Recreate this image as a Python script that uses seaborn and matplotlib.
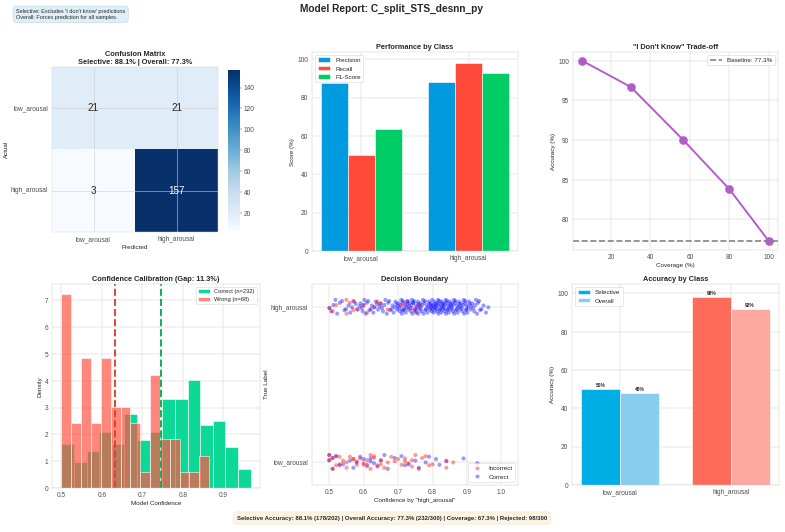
import matplotlib
matplotlib.use('Agg')
import matplotlib.pyplot as plt
import seaborn as sns
import numpy as np
import pandas as pd

# ---- data ----
CLASSES = ['low_arousal', 'high_arousal']
CONF_MATRIX = [[21, 21], [3, 157]]

METRICS = ['Precision', 'Recall', 'F1-Score']
PRECISION = [87.5, 88.2]
RECALL = [50.0, 98.1]
F1 = [63.6, 92.9]

COVERAGE = [5.4, 30.0, 56.7, 80.1, 100.0]
COV_ACCURACY = [100.0, 96.7, 90.0, 83.8, 77.3]
BASELINE = 77.3

# histogram counts per bin (15 bins each), with bin range
CORRECT_COUNTS = [12, 7, 10, 15, 12, 20, 13, 15, 24, 24, 29, 17, 18, 11, 5]
CORRECT_RANGE = (0.500, 0.9675)
WRONG_COUNTS = [12, 4, 8, 4, 8, 5, 5, 4, 1, 7, 3, 3, 1, 1, 2]
WRONG_RANGE = (0.500, 0.865)
MEAN_CORRECT = 0.746
MEAN_WRONG = 0.632

# decision boundary confidences
HIGH_WRONG = [0.50, 0.51, 0.52, 0.55, 0.55, 0.56, 0.57, 0.57, 0.58, 0.60,
              0.61, 0.63, 0.64, 0.65, 0.67, 0.71, 0.72, 0.74, 0.75, 0.76]
HIGH_RIGHT = [0.501, 0.506, 0.512, 0.518, 0.523, 0.531, 0.537, 0.544, 0.549, 0.556,
              0.561, 0.566, 0.572, 0.577, 0.583, 0.588, 0.591, 0.594, 0.597, 0.599,
              0.602, 0.606, 0.609, 0.613, 0.617, 0.621, 0.624, 0.628, 0.632, 0.635,
              0.639, 0.642, 0.646, 0.649, 0.653, 0.656, 0.660, 0.663, 0.667, 0.671,
              0.674, 0.677, 0.681, 0.684, 0.687, 0.690, 0.692, 0.695, 0.697, 0.699,
              0.701, 0.703, 0.705, 0.707, 0.709, 0.711, 0.713, 0.714, 0.716, 0.718,
              0.720, 0.722, 0.724, 0.726, 0.727, 0.729, 0.731, 0.733, 0.735, 0.737,
              0.739, 0.740, 0.742, 0.744, 0.746, 0.748, 0.750, 0.752, 0.753, 0.755,
              0.757, 0.759, 0.761, 0.763, 0.765, 0.766, 0.768, 0.770, 0.772, 0.774,
              0.776, 0.778, 0.779, 0.781, 0.783, 0.785, 0.787, 0.789, 0.790, 0.792,
              0.794, 0.795, 0.796, 0.797, 0.798, 0.799, 0.758, 0.744, 0.728, 0.712,
              0.801, 0.802, 0.803, 0.805, 0.806, 0.807, 0.808, 0.810, 0.811, 0.812,
              0.813, 0.815, 0.816, 0.817, 0.818, 0.820, 0.821, 0.822, 0.823, 0.825,
              0.826, 0.827, 0.828, 0.830, 0.831, 0.832, 0.834, 0.835, 0.836, 0.838,
              0.839, 0.840, 0.842, 0.843, 0.844, 0.846, 0.847, 0.848, 0.850, 0.851,
              0.853, 0.854, 0.856, 0.857, 0.859, 0.860, 0.862, 0.863, 0.865, 0.866,
              0.868, 0.870, 0.871, 0.873, 0.875, 0.876, 0.878, 0.880, 0.881, 0.883,
              0.885, 0.887, 0.889, 0.890, 0.892, 0.894, 0.895, 0.897, 0.898, 0.899,
              0.901, 0.903, 0.906, 0.908, 0.910, 0.912, 0.915, 0.918, 0.921, 0.924,
              0.926, 0.929, 0.932, 0.935, 0.938, 0.942, 0.948, 0.955, 0.962]
LOW_WRONG = [0.50, 0.50, 0.51, 0.51, 0.52, 0.52, 0.53, 0.54, 0.55, 0.55,
             0.56, 0.57, 0.58, 0.58, 0.59, 0.60, 0.61, 0.61, 0.62, 0.62,
             0.63, 0.63, 0.64, 0.65, 0.65, 0.66, 0.67, 0.68, 0.70, 0.71,
             0.72, 0.72, 0.73, 0.74, 0.74, 0.75, 0.76, 0.77, 0.78, 0.79,
             0.80, 0.84, 0.84, 0.86, 0.53, 0.57, 0.60, 0.69]
LOW_RIGHT = [0.50, 0.50, 0.51, 0.51, 0.52, 0.53, 0.54, 0.56, 0.57, 0.58,
             0.59, 0.60, 0.61, 0.62, 0.62, 0.63, 0.64, 0.65, 0.66, 0.67,
             0.69, 0.71, 0.72, 0.73, 0.75, 0.76, 0.78, 0.79, 0.81, 0.82,
             0.84, 0.89, 0.93]

SELECTIVE_ACC = [50, 98]
OVERALL_ACC = [48, 92]

# ---- style ----
sns.set_style('whitegrid')
plt.rcParams['font.family'] = ['Liberation Sans', 'DejaVu Sans']
plt.rcParams['xtick.labelsize'] = 12
plt.rcParams['ytick.labelsize'] = 12
plt.rcParams['axes.labelsize'] = 11.5
plt.rcParams['legend.fontsize'] = 11.5
plt.rcParams['xtick.color'] = '.3'
plt.rcParams['ytick.color'] = '.3'

W, H = 785, 532
fig = plt.figure(figsize=(20, 13.56), dpi=39.25)


def rect(x0, y0, x1, y1):
    return [x0 / W, 1 - y1 / H, (x1 - x0) / W, (y1 - y0) / H]


TITLE_KW = dict(fontsize=13.5, fontweight='bold')

# ---- confusion matrix ----
ax_cm = fig.add_axes(rect(52, 67, 218, 232))
ax_cb = fig.add_axes(rect(228, 70, 240, 231))
sns.heatmap(pd.DataFrame(CONF_MATRIX, index=CLASSES, columns=CLASSES), ax=ax_cm, cbar_ax=ax_cb,
            cmap='Blues', annot=True, fmt='d', annot_kws={'size': 18})
ax_cm.set_axisbelow(False)
ax_cm.grid(True, color='.8', lw=1)
for s in ax_cm.spines.values():
    s.set_visible(True)
    s.set_color('.85')
ax_cm.set_yticklabels(CLASSES, rotation=0)
ax_cm.set_xticklabels(CLASSES, rotation=0)
ax_cm.set_xlabel('Predicted')
ax_cm.set_ylabel('Actual')
ax_cm.set_title('Confusion Matrix\nSelective: 88.1% | Overall: 77.3%', **TITLE_KW)
ax_cb.set_yticks([20, 40, 60, 80, 100, 120, 140])
ax_cb.tick_params(labelsize=12)

# ---- performance by class ----
ax_perf = fig.add_axes(rect(312, 52, 518, 251))
perf = pd.DataFrame({
    'Class': CLASSES * 3,
    'Metric': [m for m in METRICS for _ in CLASSES],
    'Score': PRECISION + RECALL + F1,
})
sns.barplot(data=perf, x='Class', y='Score', hue='Metric', ax=ax_perf, width=0.75,
            palette=['#009ADF', '#FF4A3A', '#00CC66'], saturation=1,
            edgecolor='white', linewidth=1)
ax_perf.xaxis.grid(True)
ax_perf.set_xlim(-0.4625, 1.4625)
ax_perf.set_ylim(0, 104)
ax_perf.set_xlabel('')
ax_perf.set_ylabel('Score (%)')
ax_perf.set_title('Performance by Class', **TITLE_KW)
ax_perf.legend(loc='upper left', title=None)

# ---- I don't know trade-off ----
ax_tr = fig.add_axes(rect(573, 52, 778, 250))
sns.lineplot(x=COVERAGE, y=COV_ACCURACY, ax=ax_tr, color='#B35CC9', marker='o',
             markersize=15, linewidth=3.5, markeredgecolor='#B35CC9')
ax_tr.axhline(BASELINE, color='gray', ls='--', lw=3, label=f'Baseline: {BASELINE}%')
ax_tr.set_xlabel('Coverage (%)')
ax_tr.set_ylabel('Accuracy (%)')
ax_tr.set_title('"I Don\'t Know" Trade-off', **TITLE_KW)
ax_tr.legend(loc='upper right')

# ---- confidence calibration ----
ax_h = fig.add_axes(rect(52, 284, 260, 488))
c_edges = np.linspace(*CORRECT_RANGE, len(CORRECT_COUNTS) + 1)
w_edges = np.linspace(*WRONG_RANGE, len(WRONG_COUNTS) + 1)
hist_c = pd.DataFrame({'conf': (c_edges[:-1] + c_edges[1:]) / 2, 'n': CORRECT_COUNTS})
hist_w = pd.DataFrame({'conf': (w_edges[:-1] + w_edges[1:]) / 2, 'n': WRONG_COUNTS})
sns.histplot(data=hist_c, x='conf', weights='n', bins=list(c_edges),
             stat='density', color='#00D68F', alpha=0.95, edgecolor='white', linewidth=1,
             label=f'Correct (n={sum(CORRECT_COUNTS)})', ax=ax_h)
sns.histplot(data=hist_w, x='conf', weights='n', bins=list(w_edges),
             stat='density', color='#FF5545', alpha=0.7, edgecolor='white', linewidth=1,
             label=f'Wrong (n={sum(WRONG_COUNTS)})', ax=ax_h)
ax_h.axvline(MEAN_CORRECT, color='#00B359', ls='--', lw=3.5)
ax_h.axvline(MEAN_WRONG, color='#E0402F', ls='--', lw=3.5)
ax_h.set_xlabel('Model Confidence')
ax_h.set_ylabel('Density')
ax_h.set_title('Confidence Calibration (Gap: 11.3%)', **TITLE_KW)
ax_h.legend(loc='upper right', fontsize=10.5)

# ---- decision boundary ----
ax_d = fig.add_axes(rect(312, 284, 518, 485))
JITTER = [0.012, -0.021, 0.034, -0.008, 0.026, -0.037, 0.004, 0.045, -0.015,
          0.019, -0.029, 0.038, -0.003, 0.023, -0.044, 0.009, -0.018]
rows = []
for conf_list, row, res in [(HIGH_RIGHT, 1, 'Correct'), (LOW_RIGHT, 0, 'Correct'),
                            (HIGH_WRONG, 1, 'Incorrect'), (LOW_WRONG, 0, 'Incorrect')]:
    for i, c in enumerate(conf_list):
        rows.append({'conf': c, 'y': row + JITTER[(i * 7 + row * 3) % len(JITTER)], 'res': res})
dec = pd.DataFrame(rows)
sns.scatterplot(data=dec, x='conf', y='y', hue='res', hue_order=['Incorrect', 'Correct'],
                palette={'Incorrect': 'red', 'Correct': 'blue'}, alpha=0.4, s=55,
                linewidth=0, ax=ax_d)
ax_d.set_xlim(0.45, 1.048)
ax_d.set_ylim(-0.148, 1.148)
ax_d.set_yticks([0, 1])
ax_d.set_yticklabels(CLASSES)
ax_d.set_xlabel('Confidence by "high_arousal"')
ax_d.set_ylabel('True Label')
ax_d.set_title('Decision Boundary', **TITLE_KW)
ax_d.legend(loc='lower right', title=None)

# ---- accuracy by class ----
ax_a = fig.add_axes(rect(572, 284, 779, 485))
acc = pd.DataFrame({
    'Class': CLASSES * 2,
    'Type': ['Selective'] * 2 + ['Overall'] * 2,
    'Acc': SELECTIVE_ACC + OVERALL_ACC,
})
sns.barplot(data=acc, x='Class', y='Acc', hue='Type', ax=ax_a, width=0.7,
            palette=['#00AEE6', '#89CDEE'], saturation=1, edgecolor='white', linewidth=1)
bar_colors = {('Selective', 1): '#FF6B5B', ('Overall', 1): '#FFA89F'}
for container, kind in zip(ax_a.containers, ['Selective', 'Overall']):
    for j, patch in enumerate(container):
        if (kind, j) in bar_colors:
            patch.set_facecolor(bar_colors[(kind, j)])
    ax_a.bar_label(container, labels=[f'{v:.0f}%' for v in container.datavalues],
                   fontsize=9, fontweight='bold', padding=2)
ax_a.xaxis.grid(True)
ax_a.set_xlim(-0.435, 1.435)
ax_a.set_ylim(0, 105)
ax_a.set_xlabel('')
ax_a.set_ylabel('Accuracy (%)')
ax_a.set_title('Accuracy by Class', **TITLE_KW)
ax_a.legend(loc='upper left', title=None)

# ---- figure texts ----
fig.suptitle('Model Report: C_split_STS_desnn_py', fontsize=18.5, fontweight='bold',
             x=392 / W, y=1 - 4 / H, va='top')
fig.text(16 / W, 1 - 14.5 / H,
         "Selective: Excludes 'I don't know' predictions\nOverall: Forces prediction for all samples.",
         fontsize=10, va='center', ha='left', linespacing=1.1,
         bbox=dict(boxstyle='round,pad=0.55', facecolor='#DCEEF8', edgecolor='#A9D4EE', alpha=0.9))
fig.text(392 / W, 1 - 518 / H,
         'Selective Accuracy: 88.1% (178/202) | Overall Accuracy: 77.3% (232/300) | '
         'Coverage: 67.3% | Rejected: 98/300',
         fontsize=11, fontweight='bold', ha='center', va='center',
         bbox=dict(boxstyle='round,pad=0.6', facecolor='#FDF3E3', edgecolor='#F5DEB3', alpha=0.9))

fig.savefig('out.png', dpi=39.25)
